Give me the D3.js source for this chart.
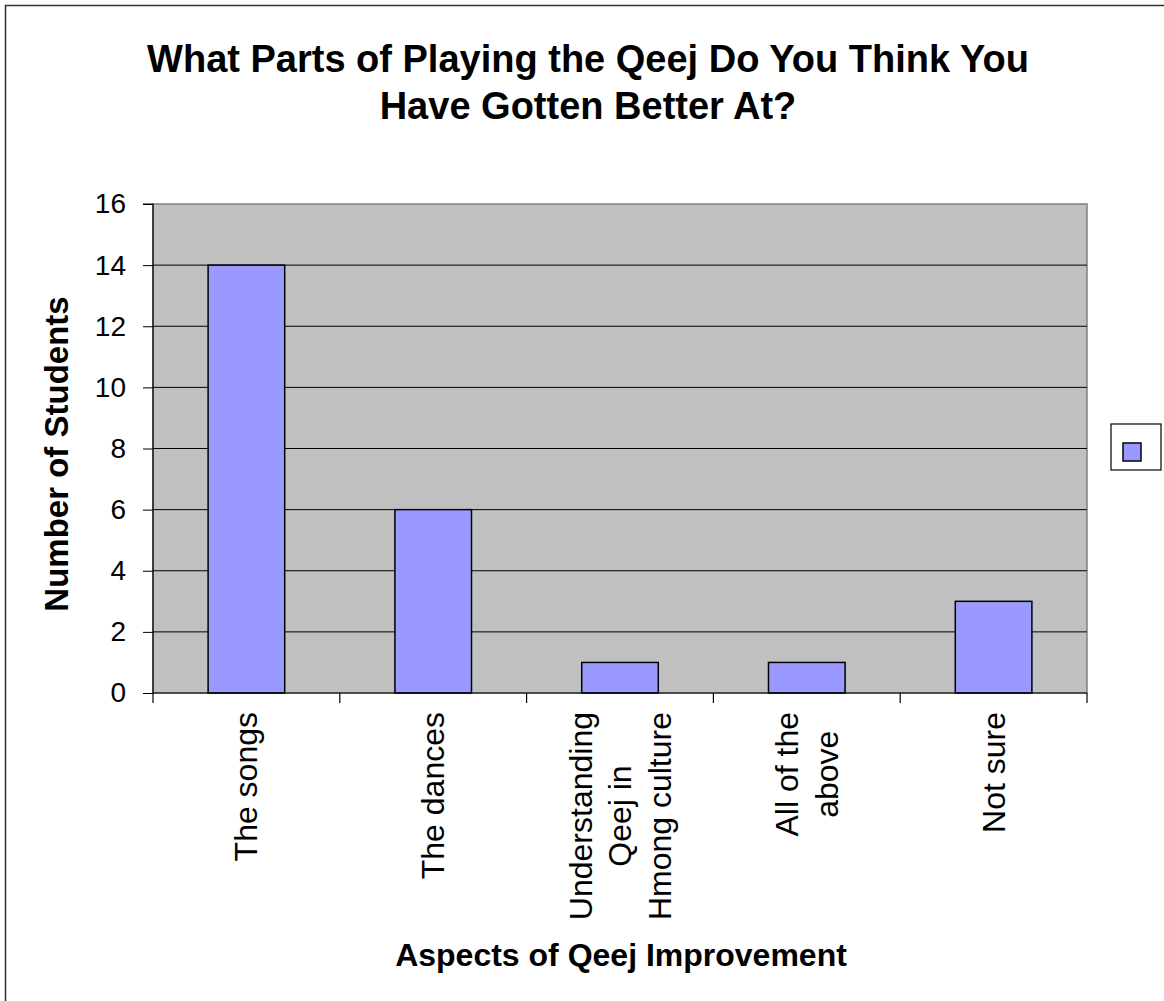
<!DOCTYPE html>
<html><head><meta charset="utf-8">
<script src="https://cdn.jsdelivr.net/npm/d3@7"></script>
<style>
html,body{margin:0;padding:0;background:#fff;}
svg{display:block;font-family:Arial,"Liberation Sans",sans-serif;}
</style></head>
<body>
<svg id="c" width="1164" height="1001"></svg>
<script>
const categories = [
  ["The songs"],
  ["The dances"],
  ["Understanding", "Qeej in", "Hmong culture"],
  ["All of the", "above"],
  ["Not sure"]
];
const values = [14, 6, 1, 1, 3];
const yTicks = [0, 2, 4, 6, 8, 10, 12, 14, 16];
const titleLines = ["What Parts of Playing the Qeej Do You Think You", "Have Gotten Better At?"];
const yTitle = "Number of Students";
const xTitle = "Aspects of Qeej Improvement";

const svg = d3.select("#c");
const L = 153, R = 1087, T = 204, B = 693;

// outer border
svg.append("rect").attr("x", 5.5).attr("y", 5.5).attr("width", 1200).attr("height", 1100)
  .attr("fill", "none").attr("stroke", "#333").attr("stroke-width", 1.5);

const x = d3.scaleBand().domain(d3.range(categories.length)).range([L, R]).paddingInner(0.59).paddingOuter(0.295);
const xb = d3.scaleBand().domain(d3.range(categories.length)).range([L, R]);
const y = d3.scaleLinear().domain([0, 16]).range([B, T]);

// plot area
svg.append("rect").attr("x", L).attr("y", T).attr("width", R - L).attr("height", B - T)
  .attr("fill", "#C0C0C0").attr("stroke", "#808080").attr("stroke-width", 1.5);

// gridlines
svg.append("g").selectAll("line").data(yTicks.filter(d => d > 0 && d < 16)).join("line")
  .attr("x1", L).attr("x2", R).attr("y1", d => y(d)).attr("y2", d => y(d))
  .attr("stroke", "#000").attr("stroke-width", 1);

// bars
svg.append("g").selectAll("rect").data(values).join("rect")
  .attr("x", (d, i) => x(i)).attr("width", x.bandwidth())
  .attr("y", d => y(d)).attr("height", d => B - y(d))
  .attr("fill", "#9999FF").attr("stroke", "#000").attr("stroke-width", 1.5);

// y axis
const yAxis = d3.axisLeft(y).tickValues(yTicks).tickSize(10).tickPadding(17).tickFormat(d3.format("d"));
const gy = svg.append("g").attr("transform", `translate(${L},0)`).call(yAxis);
gy.select(".domain").attr("stroke", "#000").attr("stroke-width", 1.2).attr("d", `M-10,${T}H0V${B}`);
gy.selectAll(".tick line").attr("stroke", "#000");
gy.selectAll(".tick text").attr("font-size", 28).attr("fill", "#000")
  .attr("font-family", "Arial, 'Liberation Sans', sans-serif");

// x axis
const gx = svg.append("g").attr("transform", `translate(0,${B})`);
gx.append("line").attr("x1", L).attr("x2", R).attr("stroke", "#000").attr("stroke-width", 1.2);
const xt = d3.range(categories.length + 1).map(i => i < categories.length ? xb(i) : R);
gx.selectAll("line.t").data(xt).join("line").attr("class", "t")
  .attr("x1", d => d).attr("x2", d => d).attr("y1", 0).attr("y2", 10)
  .attr("stroke", "#000").attr("stroke-width", 1.2);

// x labels (rotated, multi-line centred block, top-anchored)
const lineH = 39.5;
const topY = B + 19;
categories.forEach((lines, i) => {
  const cx = xb(i) + xb.bandwidth() / 2;
  const n = lines.length;
  const nodes = lines.map((t, j) => {
    const lx = cx + (j - (n - 1) / 2) * lineH + 11;
    return svg.append("text").attr("data-lx", lx)
      .attr("text-anchor", "middle").attr("font-size", 32).attr("fill", "#000").text(t);
  });
  const maxLen = d3.max(nodes, s => s.node().getComputedTextLength());
  nodes.forEach(s => {
    const lx = +s.attr("data-lx");
    s.attr("transform", `translate(${lx},${topY + maxLen / 2}) rotate(-90)`).attr("data-lx", null);
  });
});

// title
svg.append("g").selectAll("text").data(titleLines).join("text")
  .attr("x", 588).attr("y", (d, i) => 72 + i * 47)
  .attr("text-anchor", "middle").attr("font-size", 38).attr("font-weight", "bold").text(d => d);

// axis titles
svg.append("text").attr("transform", `translate(68,454) rotate(-90)`)
  .attr("text-anchor", "middle").attr("font-size", 33).attr("font-weight", "bold").text(yTitle);
svg.append("text").attr("x", 621).attr("y", 966)
  .attr("text-anchor", "middle").attr("font-size", 32).attr("font-weight", "bold").text(xTitle);

// legend
svg.append("rect").attr("x", 1111).attr("y", 424).attr("width", 50).attr("height", 46)
  .attr("fill", "#fff").attr("stroke", "#000").attr("stroke-width", 1.2);
svg.append("rect").attr("x", 1123).attr("y", 443).attr("width", 18).attr("height", 18)
  .attr("fill", "#9999FF").attr("stroke", "#000").attr("stroke-width", 1.5);
</script>
</body></html>
